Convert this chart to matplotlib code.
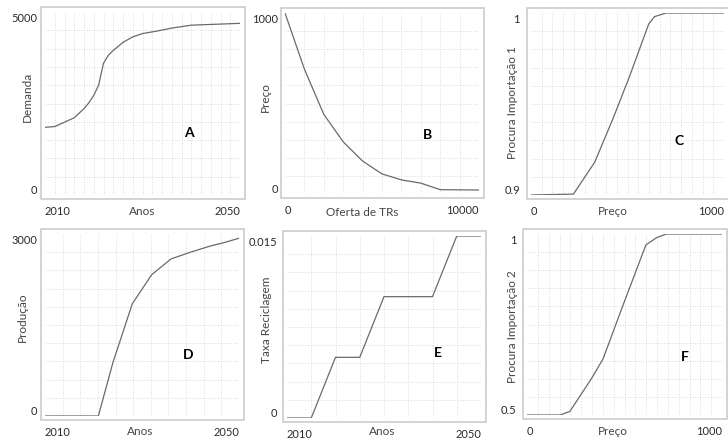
import numpy as np
import matplotlib
matplotlib.use('Agg')
import matplotlib.pyplot as plt
from matplotlib.patches import Rectangle

plt.rcParams['font.family'] = ['Lato', 'DejaVu Sans']

W, H = 728, 439

# data
years_a = [2010, 2012, 2014, 2016, 2018, 2019, 2020, 2021, 2022, 2023, 2024, 2026, 2028, 2030, 2033, 2036, 2040, 2044, 2050]
demanda = [1850, 1870, 1990, 2110, 2360, 2520, 2720, 3000, 3600, 3820, 3950, 4170, 4320, 4410, 4480, 4560, 4640, 4660, 4690]

oferta = [0, 1000, 2000, 3000, 4000, 5000, 6000, 7000, 8000, 9000, 10000]
preco_b = [1000, 690, 440, 288, 182, 111, 78, 60, 24, 23, 22]

precos_c = [0, 220, 330, 425, 510, 610, 640, 700, 1000]
procura_1 = [0.9, 0.9005, 0.918, 0.942, 0.965, 0.994, 0.998, 1.0, 1.0]

years_d = [2010, 2021, 2024, 2028, 2032, 2036, 2040, 2044, 2047, 2050]
producao = [0, 0, 880, 1850, 2330, 2590, 2700, 2800, 2860, 2930]

years_e = [2010, 2015, 2020, 2025, 2030, 2040, 2045, 2050]
taxa = [0, 0, 0.005, 0.005, 0.01, 0.01, 0.015, 0.015]

precos_f = [0, 170, 220, 330, 390, 490, 550, 610, 665, 715, 1000]
procura_2 = [0.5, 0.5, 0.51, 0.60, 0.655, 0.80, 0.885, 0.97, 0.99, 1.0, 1.0]

# panels: x, y, xlim, ylim, tick labels, labels, grid columns, layout (pixels)
panels = [
    dict(x=years_a, y=demanda, xlim=(2010, 2050), ylim=(0, 5000),
         xt=['2010', '2050'], yt=['0', '5000'], xlabel='Anos', ylabel='Demanda', tag='A',
         cols=20, box=(45, 240, 13, 196), xl=(142, 212), yl=(27, 97), tp=(189, 133), ypad=5.5),
    dict(x=oferta, y=preco_b, xlim=(0, 10000), ylim=(0, 1000),
         xt=['0', '10000'], yt=['0', '1000'], xlabel='Oferta de TRs', ylabel='Preço', tag='B',
         cols=10, box=(285, 479, 14, 195), xl=(362, 213), yl=(265, 97), tp=(427, 135), ypad=5),
    dict(x=precos_c, y=procura_1, xlim=(0, 1000), ylim=(0.9, 1),
         xt=['0', '1000'], yt=['0.9', '1'], xlabel='Preço', ylabel='Procura Importação 1', tag='C',
         cols=18, box=(531, 724, 14, 196), xl=(613, 212), yl=(512, 103), tp=(679, 141), ypad=8),
    dict(x=years_d, y=producao, xlim=(2010, 2050), ylim=(0, 3000),
         xt=['2010', '2050'], yt=['0', '3000'], xlabel='Anos', ylabel='Produção', tag='D',
         cols=11, box=(45, 239, 235, 417), xl=(140, 432), yl=(22, 317), tp=(188, 355), ypad=5.5),
    dict(x=years_e, y=taxa, xlim=(2010, 2050), ylim=(0, 0.015),
         xt=['2010', '2050'], yt=['0', '0.015'], xlabel='Anos', ylabel='Taxa Reciclagem', tag='E',
         cols=8, box=(287, 481, 237, 419), xl=(382, 432), yl=(267, 320), tp=(438, 353), ypad=7),
    dict(x=precos_f, y=procura_2, xlim=(0, 1000), ylim=(0.5, 1),
         xt=['0', '1000'], yt=['0.5', '1'], xlabel='Preço', ylabel='Procura Importação 2', tag='F',
         cols=18, box=(527, 722, 235, 416), xl=(613, 432), yl=(512, 327), tp=(685, 357), ypad=7.5),
]

fig = plt.figure(figsize=(W / 100, H / 100), dpi=100)

def fx(px):
    return px / W

def fy(py):
    return 1 - py / H

for p in panels:
    x0, x1, y0, y1 = p['box']
    ax = fig.add_axes([fx(x0), fy(y1), (x1 - x0) / W, (y1 - y0) / H])

    # outer frame, a bit larger than the grid area
    fig.patches.append(Rectangle((fx(x0 - 4), fy(y1 + 4)), (x1 - x0 + 9) / W, (y1 - y0 + 9) / H,
                                 transform=fig.transFigure, fill=False,
                                 edgecolor='#c8c8c8', linewidth=1.1, zorder=0))

    ax.plot(p['x'], p['y'], color='#6a6a6a', linewidth=0.9, zorder=3)
    ax.set_xlim(*p['xlim'])
    ax.set_ylim(*p['ylim'])

    for s in ax.spines.values():
        s.set_visible(False)
    ax.patch.set_alpha(0)

    ax.set_xticks(np.linspace(*p['xlim'], p['cols'] + 1), minor=True)
    ax.set_yticks(np.linspace(*p['ylim'], 11), minor=True)
    ax.grid(which='minor', color='#dadada', linestyle=':', linewidth=0.7)
    ax.set_xticks(p['xlim'])
    ax.set_xticklabels(p['xt'])
    ax.set_yticks(p['ylim'])
    ax.set_yticklabels(p['yt'])
    ax.tick_params(which='both', length=0, labelsize=8, colors='#2a2a2a')
    ax.tick_params(axis='x', pad=7.5)
    ax.tick_params(axis='y', pad=p['ypad'])
    lx = ax.get_xticklabels()
    lx[0].set_ha('left')
    lx[1].set_ha('right')
    ly = ax.get_yticklabels()
    ly[0].set_va('bottom')
    ly[1].set_va('top')

    fig.text(fx(p['xl'][0]), fy(p['xl'][1]), p['xlabel'], ha='center', va='center',
             fontsize=8.5, color='#444444')
    fig.text(fx(p['yl'][0]), fy(p['yl'][1]), p['ylabel'], ha='center', va='center',
             rotation=90, fontsize=8.5, color='#444444')
    fig.text(fx(p['tp'][0]), fy(p['tp'][1]), p['tag'], ha='center', va='center',
             fontsize=10, fontweight='bold', color='black')

fig.savefig('out.png', dpi=100, facecolor='white')
